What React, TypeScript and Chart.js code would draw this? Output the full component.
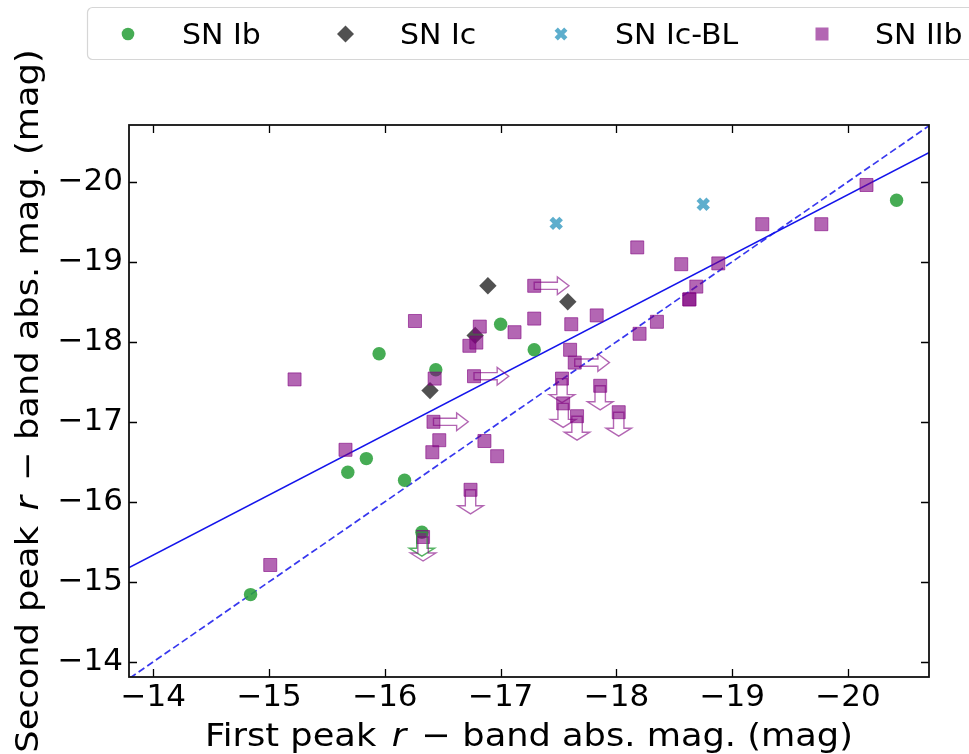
import React, { useEffect, useRef } from 'react';
import { Chart, registerables } from 'chart.js';

Chart.register(...registerables);

// ---------- data ----------
const X_TICKS = [-14, -15, -16, -17, -18, -19, -20];
const Y_TICKS = [-14, -15, -16, -17, -18, -19, -20];
const X_MIN = -20.7;
const X_MAX = -13.79;
const Y_MIN = -20.71;
const Y_MAX = -13.81;

const SERIES_NAMES = ['SN Ib', 'SN Ic', 'SN Ic-BL', 'SN IIb'];

const IB_X = [-15.95, -16.44, -17.0, -17.29, -20.42, -15.68, -15.84, -16.17, -16.32, -14.84];
const IB_Y = [-17.85, -17.65, -18.22, -17.9, -19.77, -16.37, -16.54, -16.27, -15.62, -14.84];
const IB_LIMIT = ['', '', '', '', '', '', '', '', 'down', ''];

const IC_X = [-16.89, -16.78, -16.39, -17.58];
const IC_Y = [-18.7, -18.08, -17.39, -18.5];

const ICBL_X = [-17.48, -18.75];
const ICBL_Y = [-19.48, -19.72];

const IIB_X = [
  -15.22, -16.26, -16.43, -16.82, -16.73, -16.79, -17.12, -17.29, -17.29, -16.77,
  -16.42, -20.16, -19.26, -19.77, -18.18, -18.56, -18.88, -18.69, -18.63, -18.63,
  -17.61, -17.83, -18.35, -18.2, -17.6, -17.64, -17.53, -17.54, -17.86, -17.66,
  -18.02, -15.66, -16.41, -16.47, -16.86, -16.97, -16.74, -16.33, -15.01,
];
const IIB_Y = [
  -17.53, -18.26, -17.54, -18.19, -17.95, -17.99, -18.12, -18.7, -18.29, -17.57,
  -17.0, -19.96, -19.47, -19.47, -19.18, -18.97, -18.98, -18.69, -18.53, -18.53,
  -18.22, -18.33, -18.25, -18.1, -17.9, -17.74, -17.54, -17.23, -17.45, -17.07,
  -17.12, -16.65, -16.62, -16.77, -16.76, -16.57, -16.15, -15.56, -15.21,
];
const IIB_LIMIT = [
  '', '', '', '', '', '', '', 'right', '', 'right',
  'right', '', '', '', '', '', '', '', '', '',
  '', '', '', '', '', 'right', 'down', 'down', 'down', 'down',
  'down', '', '', '', '', '', 'down', 'down', '',
];

// linear fit (solid) and one-to-one line (dashed), endpoints
const FIT_X = [-13.5, -21.0];
const FIT_Y = [-14.96, -20.59];
const ONE_X = [-13.5, -21.0];
const ONE_Y = [-13.5, -21.0];

const X_TITLE = ['First peak ', 'r', ' \u2212 band abs. mag. (mag)'];
const Y_TITLE = ['Second peak ', 'r', ' \u2212 band abs. mag. (mag)'];

// ---------- styles ----------
const FONT = '"DejaVu Sans", "Noto Sans", sans-serif';
const C_IB = 'rgba(44,160,60,0.88)';
const C_IC = 'rgba(50,50,50,0.85)';
const C_ICBL = 'rgba(75,165,200,0.9)';
const C_IIB = 'rgba(128,0,128,0.6)';
const C_IIB_ARROW = 'rgba(128,0,128,0.6)';
const C_IB_ARROW = 'rgba(44,160,60,0.8)';

const pts = (xs: number[], ys: number[]) => xs.map((x, i) => ({ x, y: ys[i] }));
const fmt = (v: number | string) => {
  const n = Number(v);
  return n < 0 ? '\u2212' + Math.abs(n) : String(n);
};

function drawArrow(ctx: CanvasRenderingContext2D, xs: any, ys: any, x: number, y: number, dir: string) {
  const L = 0.3, W = 0.09, HW = 0.22, HL = 0.1;
  let p: number[][];
  if (dir === 'right') {
    p = [
      [x, y - W / 2], [x - (L - HL), y - W / 2], [x - (L - HL), y - HW / 2], [x - L, y],
      [x - (L - HL), y + HW / 2], [x - (L - HL), y + W / 2], [x, y + W / 2],
    ];
  } else {
    p = [
      [x - W / 2, y], [x - W / 2, y + (L - HL)], [x - HW / 2, y + (L - HL)], [x, y + L],
      [x + HW / 2, y + (L - HL)], [x + W / 2, y + (L - HL)], [x + W / 2, y],
    ];
  }
  ctx.beginPath();
  p.forEach(([a, b], i) => {
    const px = xs.getPixelForValue(a);
    const py = ys.getPixelForValue(b);
    if (i === 0) ctx.moveTo(px, py);
    else ctx.lineTo(px, py);
  });
  ctx.closePath();
  ctx.stroke();
}

const arrowsPlugin = {
  id: 'limitArrows',
  afterDatasetsDraw(chart: any) {
    const { ctx, scales, chartArea } = chart;
    ctx.save();
    ctx.beginPath();
    ctx.rect(chartArea.left, chartArea.top, chartArea.right - chartArea.left, chartArea.bottom - chartArea.top);
    ctx.clip();
    ctx.lineWidth = 1.4;
    ctx.strokeStyle = C_IB_ARROW;
    IB_LIMIT.forEach((l, i) => { if (l) drawArrow(ctx, scales.x, scales.y, IB_X[i], IB_Y[i], l); });
    ctx.strokeStyle = C_IIB_ARROW;
    IIB_LIMIT.forEach((l, i) => { if (l) drawArrow(ctx, scales.x, scales.y, IIB_X[i], IIB_Y[i], l); });
    ctx.restore();
  },
};

const TEXT_STRETCH = 1.1;

function drawRich(ctx: CanvasRenderingContext2D, parts: string[], size: number) {
  const fonts = [`${size}px ${FONT}`, `italic ${size}px ${FONT}`, `${size}px ${FONT}`];
  const widths = parts.map((t, i) => { ctx.font = fonts[i]; return ctx.measureText(t).width; });
  const gap = size * 0.12;
  const total = widths.reduce((a, b) => a + b, 0) + gap * 2;
  ctx.scale(TEXT_STRETCH, 1);
  let x = -total / 2;
  parts.forEach((t, i) => {
    ctx.font = fonts[i];
    ctx.fillText(t, x, 0);
    x += widths[i] + (i < 2 ? gap : 0);
  });
}

const framePlugin = {
  id: 'frameTitlesLegend',
  afterDraw(chart: any) {
    const { ctx, chartArea: a, scales } = chart;
    ctx.save();
    // inward ticks
    ctx.strokeStyle = '#000';
    ctx.lineWidth = 1.3;
    const T = 8;
    X_TICKS.forEach((v) => {
      const px = Math.round(scales.x.getPixelForValue(v)) + 0.5;
      ctx.beginPath();
      ctx.moveTo(px, a.bottom); ctx.lineTo(px, a.bottom - T);
      ctx.moveTo(px, a.top); ctx.lineTo(px, a.top + T);
      ctx.stroke();
    });
    Y_TICKS.forEach((v) => {
      const py = Math.round(scales.y.getPixelForValue(v)) + 0.5;
      ctx.beginPath();
      ctx.moveTo(a.left, py); ctx.lineTo(a.left + T, py);
      ctx.moveTo(a.right, py); ctx.lineTo(a.right - T, py);
      ctx.stroke();
    });
    // frame
    ctx.lineWidth = 1.8;
    ctx.strokeStyle = '#111';
    ctx.strokeRect(a.left, a.top, a.right - a.left, a.bottom - a.top);

    // axis titles
    ctx.fillStyle = '#000';
    ctx.textBaseline = 'alphabetic';
    ctx.textAlign = 'left';
    ctx.save();
    ctx.translate((a.left + a.right) / 2, 746);
    drawRich(ctx, X_TITLE, 32);
    ctx.restore();
    ctx.save();
    ctx.translate(38, (a.top + a.bottom) / 2);
    ctx.rotate(-Math.PI / 2);
    drawRich(ctx, Y_TITLE, 32);
    ctx.restore();

    // legend
    const bx = 87.5, by = 7.5, bw = 920, bh = 52, r = 5;
    ctx.beginPath();
    ctx.moveTo(bx + r, by);
    ctx.lineTo(bx + bw - r, by);
    ctx.arcTo(bx + bw, by, bx + bw, by + r, r);
    ctx.lineTo(bx + bw, by + bh - r);
    ctx.arcTo(bx + bw, by + bh, bx + bw - r, by + bh, r);
    ctx.lineTo(bx + r, by + bh);
    ctx.arcTo(bx, by + bh, bx, by + bh - r, r);
    ctx.lineTo(bx, by + r);
    ctx.arcTo(bx, by, bx + r, by, r);
    ctx.closePath();
    ctx.fillStyle = 'rgba(255,255,255,0.85)';
    ctx.fill();
    ctx.strokeStyle = '#d6d6d6';
    ctx.lineWidth = 1.2;
    ctx.stroke();

    const my = 34;
    const mx = [128, 345.5, 561, 822];
    const tx = [182, 400, 615, 875];
    // circle
    ctx.fillStyle = C_IB;
    ctx.beginPath(); ctx.arc(mx[0], my, 6.3, 0, Math.PI * 2); ctx.fill();
    // diamond
    ctx.fillStyle = C_IC;
    ctx.beginPath();
    ctx.moveTo(mx[1] - 8.5, my); ctx.lineTo(mx[1], my - 8.5); ctx.lineTo(mx[1] + 8.5, my); ctx.lineTo(mx[1], my + 8.5);
    ctx.closePath(); ctx.fill();
    // filled X
    ctx.strokeStyle = C_ICBL; ctx.lineWidth = 4.6; ctx.lineCap = 'butt';
    ctx.beginPath();
    ctx.moveTo(mx[2] - 4.8, my - 4.8); ctx.lineTo(mx[2] + 4.8, my + 4.8);
    ctx.moveTo(mx[2] + 4.8, my - 4.8); ctx.lineTo(mx[2] - 4.8, my + 4.8);
    ctx.stroke();
    // square
    ctx.fillStyle = C_IIB;
    ctx.fillRect(mx[3] - 6.5, my - 6.5, 13, 13);

    ctx.fillStyle = '#000';
    ctx.font = `28px ${FONT}`;
    ctx.textBaseline = 'alphabetic';
    SERIES_NAMES.forEach((n, i) => {
      ctx.save();
      ctx.translate(tx[i], 44);
      ctx.scale(1.07, 1);
      ctx.fillText(n, 0, 0);
      ctx.restore();
    });
    ctx.restore();
  },
};

export default function App() {
  const ref = useRef<HTMLCanvasElement>(null);
  useEffect(() => {
    if (!ref.current) return;
    const tickFont = { family: FONT, size: 31 };
    const chart = new Chart(ref.current, {
      type: 'scatter',
      data: {
        datasets: [
          {
            label: SERIES_NAMES[3], data: pts(IIB_X, IIB_Y), order: 0,
            pointStyle: 'rect', pointRadius: 9.2, backgroundColor: C_IIB, borderColor: C_IIB, borderWidth: 1,
          },
          {
            label: SERIES_NAMES[2], data: pts(ICBL_X, ICBL_Y), order: 1,
            pointStyle: 'crossRot', pointRadius: 7, backgroundColor: C_ICBL, borderColor: C_ICBL, borderWidth: 5,
          },
          {
            label: SERIES_NAMES[1], data: pts(IC_X, IC_Y), order: 2,
            pointStyle: 'rectRot', pointRadius: 8.7, backgroundColor: C_IC, borderColor: C_IC, borderWidth: 0,
          },
          {
            label: SERIES_NAMES[0], data: pts(IB_X, IB_Y), order: 3,
            pointStyle: 'circle', pointRadius: 6.7, backgroundColor: C_IB, borderColor: C_IB, borderWidth: 0,
          },
          {
            label: 'fit', data: pts(FIT_X, FIT_Y), order: 4, showLine: true, pointRadius: 0,
            borderColor: 'rgb(20,20,235)', borderWidth: 1.7,
          },
          {
            label: '1:1', data: pts(ONE_X, ONE_Y), order: 5, showLine: true, pointRadius: 0,
            borderColor: 'rgba(20,20,235,0.85)', borderWidth: 1.7, borderDash: [7, 3.5],
          },
        ],
      },
      options: {
        responsive: false,
        animation: false,
        events: [],
        layout: { padding: { left: 0, right: 40, top: 125, bottom: 0 } },
        plugins: { legend: { display: false }, tooltip: { enabled: false } },
        scales: {
          x: {
            type: 'linear', reverse: true, min: X_MIN, max: X_MAX,
            grid: { display: false, drawTicks: false }, border: { display: false },
            ticks: { font: tickFont, color: '#000', padding: 2, maxRotation: 0, autoSkip: false, includeBounds: false, callback: fmt },
            afterBuildTicks: (s: any) => { s.ticks = X_TICKS.map((v) => ({ value: v })); },
            afterFit: (s: any) => { s.height = 77; },
          },
          y: {
            type: 'linear', reverse: true, min: Y_MIN, max: Y_MAX,
            grid: { display: false, drawTicks: false }, border: { display: false },
            ticks: { font: tickFont, color: '#000', padding: 6, autoSkip: false, includeBounds: false, callback: fmt },
            afterBuildTicks: (s: any) => { s.ticks = Y_TICKS.map((v) => ({ value: v })); },
            afterFit: (s: any) => { s.width = 129; },
          },
        },
      } as any,
      plugins: [arrowsPlugin, framePlugin],
    });
    return () => chart.destroy();
  }, []);
  return (
    <div style={{ position: 'fixed', left: 0, top: 0, width: 969, height: 754, background: '#fff' }}>
      <canvas ref={ref} width={969} height={754} style={{ display: 'block', width: 969, height: 754 }} />
    </div>
  );
}
